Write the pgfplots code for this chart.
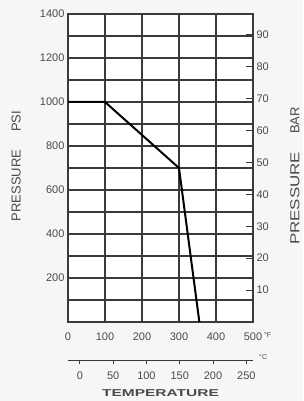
\documentclass[border=0pt]{standalone}
\usepackage{fontspec}
\setmainfont{Liberation Sans}
\usepackage{pgfplots}
\pgfplotsset{compat=1.18}
\definecolor{txt}{HTML}{4A4A4A}
\definecolor{grd}{HTML}{3A3A3A}
\begin{document}
\begin{tikzpicture}[x=1pt,y=1pt]
\fill[gray!7] (0,0) rectangle (303,401);
\useasboundingbox (0,0) rectangle (303,401);
% main axis (psi / F)
\begin{axis}[at={(68pt,79pt)}, anchor=south west, scale only axis,
  width=185pt, height=308pt,
  xmin=0, xmax=500, ymin=0, ymax=1400,
  axis background/.style={fill=white},
  xtick={0,100,...,500},
  xticklabels={0,100,200,300,400,{500\makebox[0pt][l]{\,\fontsize{7}{8}\selectfont\raisebox{3pt}{°F}}}},
  ytick={200,400,...,1400},
  minor ytick={100,300,...,1300},
  grid=both,
  major grid style={grd, line width=1.1pt},
  minor grid style={grd, line width=1.1pt},
  axis line style={grd, line width=1.2pt},
  major tick length=0pt, minor tick length=0pt,
  tick label style={font=\fontsize{11}{13}\selectfont, color=txt},
  xticklabel style={yshift=-7pt},
  /pgf/number format/assume math mode=true,
  /pgf/number format/1000 sep={},
  ylabel={PRESSURE\hspace{18pt}PSI},
  ylabel style={at={(axis description cs:-0.28,0.506)}, anchor=center, font=\fontsize{13}{15}\selectfont, color=txt},
]
\addplot[black, line width=2pt] coordinates {(0,1000) (100,1000) (300,700) (355,0)};
\end{axis}
% bar axis (right)
\begin{axis}[at={(68pt,79pt)}, anchor=south west, scale only axis,
  width=185pt, height=308pt,
  xmin=0, xmax=500, ymin=0, ymax=96.5517,
  hide x axis,
  axis y line*=right,
  axis line style={grd, line width=1.2pt},
  ytick={10,20,...,90},
  tick align=inside,
  major tick length=7pt,
  tick style={grd, line width=0.8pt},
  tick label style={font=\fontsize{11}{13}\selectfont, color=txt},
  /pgf/number format/assume math mode=true,
  ylabel={\scalebox{1.3}[1]{PRESSURE}\hspace{18pt}BAR},
  ylabel style={at={(axis description cs:1.227,0.474)}, anchor=center, rotate=0, font=\fontsize{13}{15}\selectfont, color=txt},
]
\end{axis}
% Celsius axis
\begin{axis}[at={(68pt,41pt)}, anchor=south west, scale only axis,
  width=185pt, height=1pt,
  xmin=-17.7778, xmax=260, ymin=0, ymax=1,
  hide y axis,
  axis x line*=bottom,
  axis line style={grd, line width=0.8pt},
  xtick={0,50,...,250},
  tick align=outside,
  major tick length=4pt,
  tick style={grd, line width=0.8pt},
  tick label style={font=\fontsize{11}{13}\selectfont, color=txt},
  /pgf/number format/assume math mode=true,
  xticklabel style={yshift=-4pt},
  xlabel={\scalebox{1.55}[1]{TEMPERATURE}},
  xlabel style={font=\fontsize{10}{11}\selectfont\bfseries, color=txt, yshift=-3pt},
  clip=false,
]
\node[font=\fontsize{7}{8}\selectfont, color=txt, anchor=west] at (axis cs:264,3) {°C};
\end{axis}
\end{tikzpicture}
\end{document}
